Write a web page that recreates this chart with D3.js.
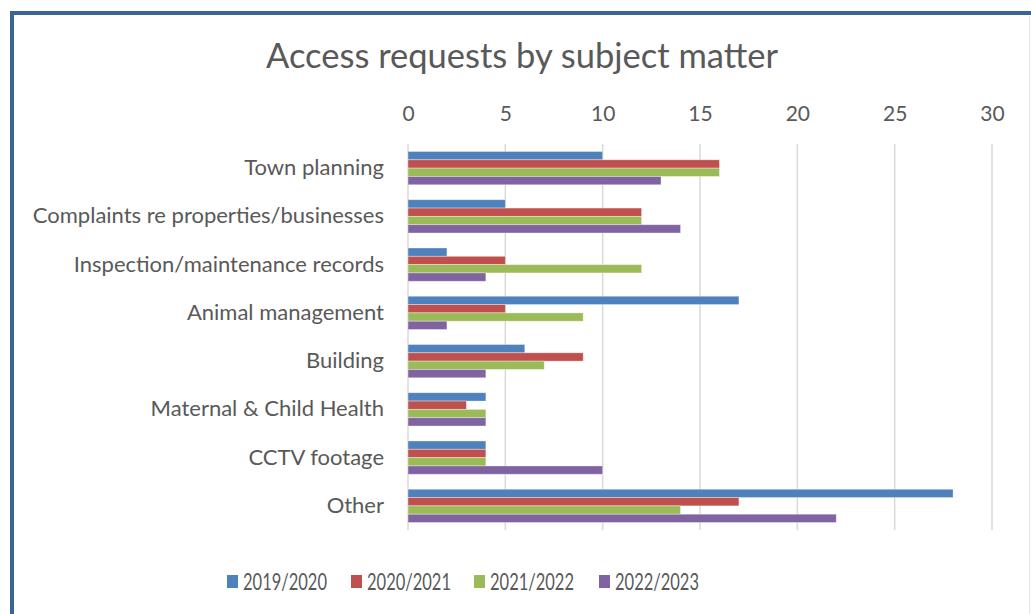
<!DOCTYPE html>
<html>
<head>
<meta charset="utf-8">
<script src="https://cdn.jsdelivr.net/npm/d3@7"></script>
<style>
  body { margin: 0; background: #fff; }
  #chart { width: 1031px; height: 614px; }
  text { font-family: Lato, "Open Sans", sans-serif; fill: #595959; }
</style>
</head>
<body>
<div id="chart"></div>
<script>
const categories = [
  "Town planning",
  "Complaints re properties/businesses",
  "Inspection/maintenance records",
  "Animal management",
  "Building",
  "Maternal & Child Health",
  "CCTV footage",
  "Other",
];
const seriesNames = ["2019/2020", "2020/2021", "2021/2022", "2022/2023"];
const values2019 = [10, 5, 2, 17, 6, 4, 4, 28];
const values2020 = [16, 12, 5, 5, 9, 3, 4, 17];
const values2021 = [16, 12, 12, 9, 7, 4, 4, 14];
const values2022 = [13, 14, 4, 2, 4, 4, 10, 22];
const xTicks = [0, 5, 10, 15, 20, 25, 30];

const colors = ["#4F81BD", "#C0504D", "#9BBB59", "#8064A2"];
const seriesValues = [values2019, values2020, values2021, values2022];

const width = 1031, height = 614;
const margin = { left: 408, right: 39, top: 144, bottom: 84 };

const svg = d3.select("#chart").append("svg")
  .attr("width", width).attr("height", height);

// frame
svg.append("rect")
  .attr("x", 12).attr("y", 13)
  .attr("width", 1040).attr("height", 640)
  .attr("fill", "none")
  .attr("stroke", "#3A6496")
  .attr("stroke-width", 4);
svg.append("line")
  .attr("x1", 1029.5).attr("x2", 1029.5).attr("y1", 16).attr("y2", height)
  .attr("stroke", "#E4E4E4").attr("stroke-width", 1);

svg.append("text")
  .attr("x", 522).attr("y", 68)
  .attr("text-anchor", "middle")
  .style("font-size", "34.5px")
  .text("Access requests by subject matter");

const x = d3.scaleLinear().domain([0, 30]).range([margin.left, width - margin.right]);
const y = d3.scaleBand().domain(categories)
  .range([margin.top, height - margin.bottom])
  .paddingInner(0.31).paddingOuter(0.155);
const ySub = d3.scaleBand().domain(seriesNames).range([0, y.bandwidth()]);

// gridlines
svg.append("g")
  .selectAll("line")
  .data(xTicks)
  .join("line")
  .attr("x1", d => x(d)).attr("x2", d => x(d))
  .attr("y1", margin.top).attr("y2", height - margin.bottom)
  .attr("stroke", "#D9D9D9").attr("stroke-width", 1.5);

// top axis labels
const xAxis = svg.append("g")
  .attr("transform", `translate(0, ${margin.top - 23})`)
  .call(d3.axisTop(x).tickValues(xTicks).tickSize(0).tickPadding(0));
xAxis.select(".domain").remove();
xAxis.selectAll("text").style("font-size", "21px").attr("fill", "#595959");

// category labels
const yAxis = svg.append("g")
  .attr("transform", `translate(${margin.left - 24}, 0)`)
  .call(d3.axisLeft(y).tickSize(0).tickPadding(0));
yAxis.select(".domain").remove();
yAxis.selectAll("text").style("font-size", "22px").attr("fill", "#595959");

// bars
const groups = svg.append("g")
  .selectAll("g")
  .data(categories)
  .join("g")
  .attr("transform", d => `translate(0, ${y(d)})`);

groups.selectAll("rect")
  .data((c, i) => seriesNames.map((s, j) => ({ s, j, v: seriesValues[j][i] })))
  .join("rect")
  .attr("x", x(0))
  .attr("y", d => ySub(d.s))
  .attr("width", d => x(d.v) - x(0))
  .attr("height", ySub.bandwidth())
  .attr("fill", d => colors[d.j])
  .attr("stroke", "rgba(255,255,255,0.45)")
  .attr("stroke-width", 0.8);

// legend
const legendX = [227, 351, 474, 599];
const legend = svg.append("g")
  .selectAll("g")
  .data(seriesNames)
  .join("g")
  .attr("transform", (d, i) => `translate(${legendX[i]}, 575)`);
legend.append("rect")
  .attr("width", 11).attr("height", 13)
  .attr("fill", (d, i) => colors[i]);
legend.append("text")
  .attr("x", 16).attr("y", 14.5)
  .style("font-size", "23px")
  .attr("textLength", 84)
  .attr("lengthAdjust", "spacingAndGlyphs")
  .text(d => d);
</script>
</body>
</html>
